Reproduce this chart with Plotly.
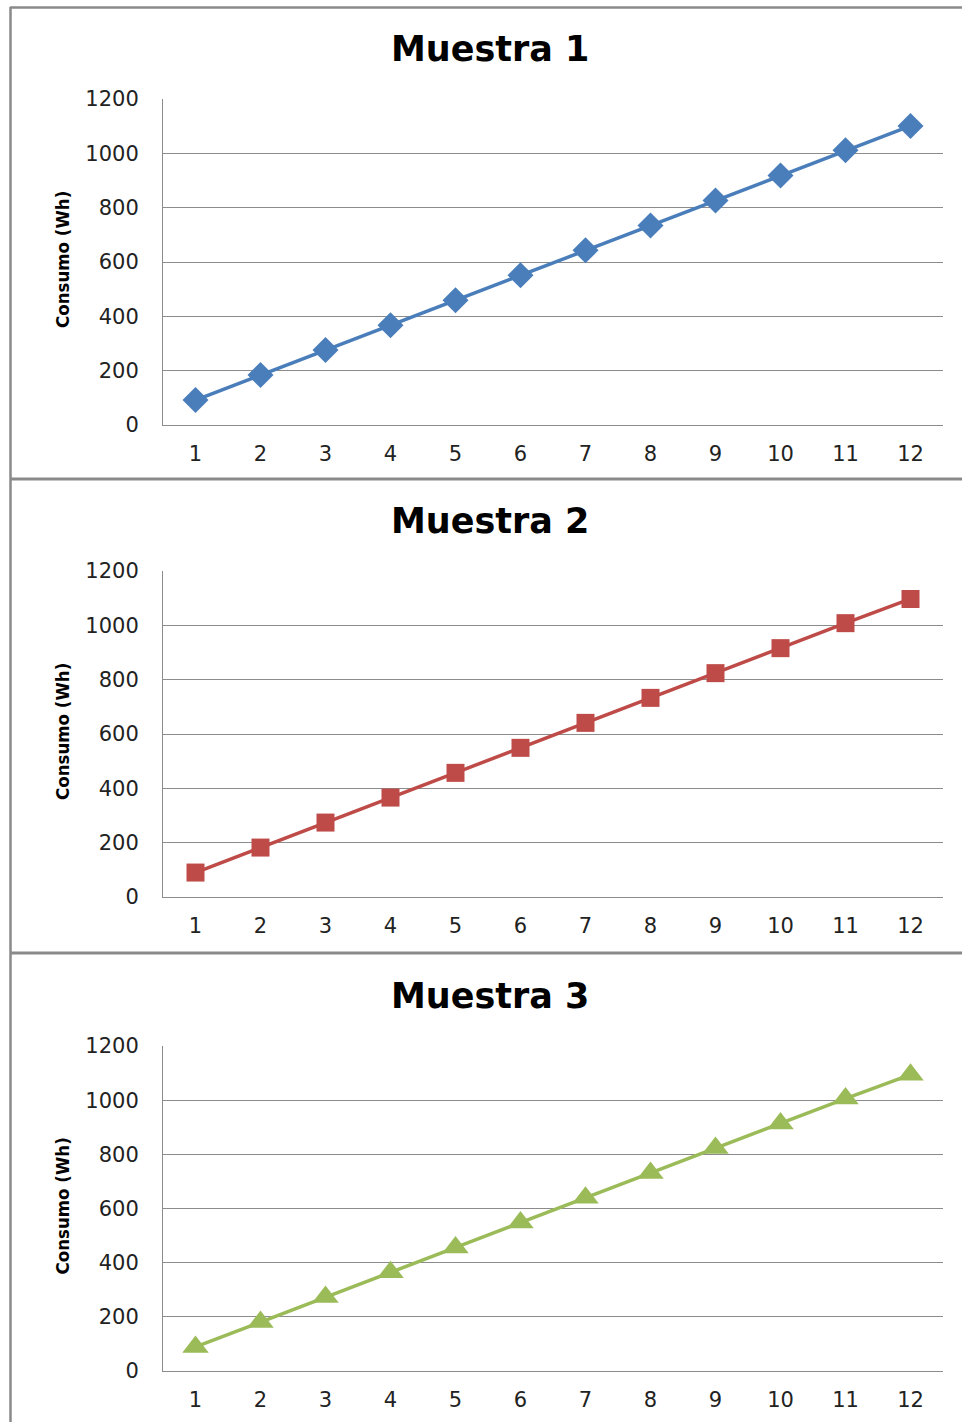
import plotly.graph_objects as go

# Monthly consumption for three samples (Wh)
meses = [1, 2, 3, 4, 5, 6, 7, 8, 9, 10, 11, 12]
muestra_1 = [92, 184, 276, 367, 459, 551, 643, 734, 826, 918, 1011, 1101]
muestra_2 = [90, 182, 274, 366, 457, 549, 641, 733, 824, 916, 1008, 1097]
muestra_3 = [89, 181, 273, 365, 456, 548, 640, 731, 823, 914, 1006, 1094]
titulos = ["Muestra 1", "Muestra 2", "Muestra 3"]
y_ticks = [0, 200, 400, 600, 800, 1000, 1200]

W, H = 962, 1422
series = [
    (muestra_1, "#4A7EBB", "diamond", 20),
    (muestra_2, "#BE4B48", "square", 18),
    (muestra_3, "#9BBB59", "triangle-up", 23),
]
# pixel layout of each panel: (title_y, plot_top, plot_bottom)
panels = [(49, 99, 425), (521, 571, 897), (996, 1046, 1371)]
plot_left, plot_right = 163, 943


def px_x(x):
    return x / W


def px_y(y):
    return 1 - y / H


tick_font = dict(family="DejaVu Sans", size=21, color="#222222")

fig = go.Figure()
annotations = []
for i, ((vals, color, symbol, msize), (ty, top, bot)) in enumerate(zip(series, panels)):
    n = "" if i == 0 else str(i + 1)
    fig.add_trace(go.Scatter(
        x=meses, y=vals, mode="lines+markers",
        line=dict(color=color, width=3.5),
        marker=dict(symbol=symbol, size=msize, color=color),
        xaxis="x" + n, yaxis="y" + n, showlegend=False,
    ))
    fig.layout["xaxis" + n] = dict(
        domain=[px_x(plot_left), px_x(plot_right)],
        anchor="y" + n, range=[0.5, 12.5], tickmode="array",
        tickvals=meses, ticktext=[str(m) for m in meses],
        showgrid=False, zeroline=False, showline=True,
        linecolor="#8c8c8c", linewidth=1, ticks="",
        ticklabelstandoff=10, automargin=False, tickfont=tick_font,
    )
    fig.layout["yaxis" + n] = dict(
        domain=[px_y(bot), px_y(top)],
        anchor="x" + n, range=[0, 1200], tickmode="array",
        tickvals=y_ticks, ticktext=[str(v) for v in y_ticks],
        showgrid=True, gridcolor="#8c8c8c", gridwidth=1,
        zeroline=False, showline=True, linecolor="#8c8c8c", linewidth=1,
        ticks="", ticklabelstandoff=19, automargin=False, tickfont=tick_font,
    )
    annotations.append(dict(
        text="<b>" + titulos[i] + "</b>", x=px_x(490), y=px_y(ty),
        xref="paper", yref="paper", xanchor="center", yanchor="middle",
        showarrow=False, font=dict(family="DejaVu Sans", size=35, color="#000000"),
    ))
    annotations.append(dict(
        text="<b>Consumo (Wh)</b>", x=px_x(62), y=px_y((top + bot) / 2 - 2),
        xref="paper", yref="paper", xanchor="center", yanchor="middle",
        textangle=-90, showarrow=False,
        font=dict(family="DejaVu Sans Condensed", size=18.5, color="#000000"),
    ))

# outer frame and separators between panels
frame = "#8a8a8a"
shapes = [
    dict(type="line", xref="paper", yref="paper", x0=px_x(10.5), x1=px_x(10.5),
         y0=px_y(7), y1=px_y(H + 5), line=dict(color=frame, width=2.5)),
    dict(type="line", xref="paper", yref="paper", x0=px_x(10), x1=1.01,
         y0=px_y(7.5), y1=px_y(7.5), line=dict(color=frame, width=2.5)),
]
for sy in (479, 953):
    shapes.append(dict(type="line", xref="paper", yref="paper", x0=px_x(10), x1=1.01,
                       y0=px_y(sy), y1=px_y(sy), line=dict(color=frame, width=3)))

fig.update_layout(
    width=W, height=H, margin=dict(l=0, r=0, t=0, b=0, autoexpand=False),
    paper_bgcolor="white", plot_bgcolor="white",
    annotations=annotations, shapes=shapes,
)
fig.write_html("out.html")
